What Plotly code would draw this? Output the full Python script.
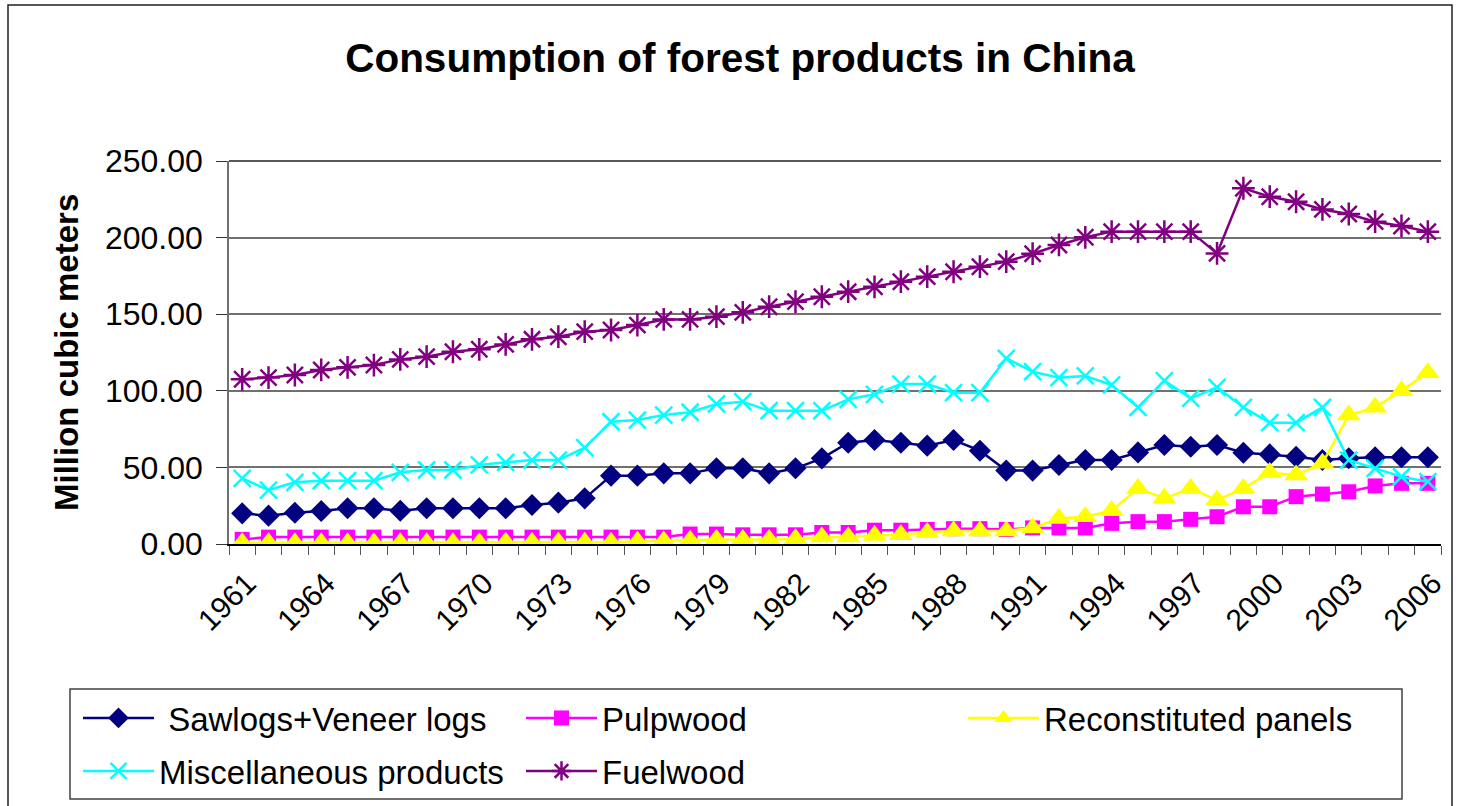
import plotly.graph_objects as go

# Years 1961-2006
years = list(range(1961, 2007))
label_years = years[::3]
tick_labels = [str(y) for y in label_years]

# Consumption, million cubic meters
sawlogs_veneer = [20.0, 18.5, 20.4, 21.5, 23.3, 23.3, 21.7, 23.3, 23.3, 23.3,
                  23.3, 25.5, 27.0, 29.8, 44.6, 44.6, 46.1, 46.1, 49.4, 49.4,
                  46.1, 49.4, 55.9, 66.1, 67.9, 66.1, 64.2, 67.9, 60.9, 47.9,
                  47.9, 51.6, 54.8, 54.8, 59.8, 64.6, 63.5, 64.6, 59.6, 58.5,
                  57.0, 54.8, 56.0, 56.6, 56.6, 56.6]
pulpwood = [3.0, 4.5, 4.5, 4.5, 4.5, 4.5, 4.5, 4.5, 4.5, 4.5,
            4.5, 4.5, 4.5, 4.5, 4.5, 4.5, 4.5, 6.5, 6.5, 6.0,
            6.0, 6.0, 7.5, 7.5, 9.0, 9.0, 9.5, 10.0, 10.0, 9.5,
            10.5, 10.5, 10.5, 13.5, 14.6, 14.6, 16.1, 17.8, 24.3, 24.3,
            30.9, 32.6, 34.1, 37.9, 39.6, 39.6]
reconstituted = [0.8, 0.8, 0.8, 0.8, 0.8, 0.8, 0.8, 0.8, 0.8, 0.8,
                 1.2, 1.2, 1.2, 1.2, 1.2, 1.8, 2.0, 2.5, 3.0, 3.0,
                 3.0, 3.5, 4.5, 4.5, 5.5, 6.0, 7.5, 8.5, 8.5, 8.5,
                 10.5, 16.7, 17.8, 21.8, 36.3, 29.8, 36.3, 28.7, 36.3, 46.6,
                 45.0, 52.7, 84.2, 89.2, 100.1, 111.8]
miscellaneous = [42.9, 35.2, 40.3, 41.3, 41.3, 41.3, 46.8, 48.3, 48.3, 51.6,
                 53.3, 54.8, 54.8, 62.9, 79.8, 80.9, 84.2, 86.0, 91.4, 92.9,
                 87.0, 87.0, 87.0, 94.4, 97.7, 104.4, 104.4, 98.8, 98.8, 121.2,
                 112.5, 108.6, 109.7, 103.8, 89.2, 106.6, 95.1, 102.3, 89.2, 79.2,
                 79.2, 89.2, 54.8, 49.4, 43.9, 40.7]
fuelwood = [107.5, 108.6, 110.3, 113.6, 115.3, 116.8, 120.5, 122.3, 125.5, 127.1,
            130.3, 133.6, 135.3, 138.6, 139.7, 142.9, 146.6, 146.6, 148.4, 151.2,
            154.9, 158.2, 161.4, 164.7, 167.9, 171.2, 174.5, 177.7, 181.0, 184.3,
            189.5, 195.2, 200.2, 203.9, 203.9, 203.9, 203.9, 189.7, 232.2, 226.7,
            223.4, 218.4, 215.4, 210.4, 207.6, 203.9]

FONT = "Liberation Sans, Arial, sans-serif"
W, H = 1460, 806
L, R, T, B = 229, 19, 161, 262
PW, PH = W - L - R, H - T - B


def px_x(px):
    return (px - L) / PW


def px_y(py):
    return (H - B - py) / PH


series = [
    dict(name=" Sawlogs+Veneer logs", y=sawlogs_veneer, color="#000080",
         symbol="diamond", size=17, legend="legend", lx=78, ly=718),
    dict(name="Pulpwood", y=pulpwood, color="#FF00FF",
         symbol="square", size=15, legend="legend2", lx=521, ly=718),
    dict(name="Reconstituted panels", y=reconstituted, color="#FFFF00",
         symbol="triangle-up", size=21, legend="legend3", lx=963, ly=718),
    dict(name="Miscellaneous products", y=miscellaneous, color="#00FFFF",
         symbol="x-thin-open", size=17, legend="legend4", lx=78, ly=771),
    dict(name="Fuelwood", y=fuelwood, color="#800080",
         symbol="asterisk-open", size=19, legend="legend5", lx=521, ly=771),
]

fig = go.Figure()
legends = {}
for s in series:
    open_sym = s["symbol"].endswith("open")
    fig.add_trace(go.Scatter(
        x=years, y=s["y"], name=s["name"], mode="lines+markers",
        line=dict(color=s["color"], width=2.5),
        marker=dict(symbol=s["symbol"], size=s["size"], color=s["color"],
                    line=dict(color=s["color"], width=2.5 if open_sym else 0)),
        legend=s["legend"],
    ))
    legends[s["legend"]] = dict(
        xref="container", yref="container",
        x=s["lx"] / W, y=1 - s["ly"] / H, xanchor="left", yanchor="middle",
        orientation="h", bgcolor="rgba(0,0,0,0)", borderwidth=0,
        itemwidth=71,
        font=dict(family=FONT, size=33, color="black"),
    )

fig.update_layout(**legends)

fig.update_layout(
    width=W, height=H,
    margin=dict(l=L, r=R, t=T, b=B),
    paper_bgcolor="white", plot_bgcolor="white",
    showlegend=True,
    title=dict(text="<b>Consumption of forest products in China</b>",
               font=dict(family=FONT, size=40.5, color="black"),
               x=740 / W, xanchor="center", xref="container",
               y=1 - 58 / H, yanchor="middle", yref="container"),
    xaxis=dict(
        range=[1960.5, 2006.5], tickmode="array", tickvals=label_years,
        ticktext=tick_labels, tickangle=-45, ticks="", showgrid=False,
        zeroline=False, showline=True, linecolor="black", linewidth=1.5,
        tickfont=dict(family=FONT, size=30, color="black"),
        ticklabelstandoff=8, ticklabelshift=5,
        minor=dict(tickmode="linear", tick0=1960.5, dtick=1, ticks="outside",
                   ticklen=9, tickcolor="#555555", tickwidth=1.2, showgrid=False),
    ),
    yaxis=dict(
        range=[0, 250], dtick=50, tickformat=".2f", ticks="outside",
        ticklen=11, tickcolor="#333333", tickwidth=1.2,
        showline=True, linecolor="#707070", linewidth=1.5,
        showgrid=True, gridcolor="#707070", gridwidth=1.5, zeroline=False,
        tickfont=dict(family=FONT, size=32, color="black"),
        ticklabelstandoff=7,
    ),
)

# Axis title
fig.add_annotation(text="<b>Million cubic meters</b>", textangle=-90,
                   x=px_x(66), y=px_y(353), xref="paper", yref="paper",
                   xanchor="center", yanchor="middle", showarrow=False,
                   font=dict(family=FONT, size=33, color="black"))

# Top gridline drawn darker, legend frame and outer chart frame
fig.add_shape(type="line", xref="paper", yref="paper", x0=0, x1=1, y0=1, y1=1,
              line=dict(color="#202020", width=1.5))
fig.add_shape(type="rect", xref="paper", yref="paper",
              x0=px_x(70), x1=px_x(1402), y0=px_y(799), y1=px_y(689),
              line=dict(color="#404040", width=1.5))
fig.add_shape(type="rect", xref="paper", yref="paper",
              x0=px_x(8), x1=px_x(1452), y0=px_y(830), y1=px_y(5),
              line=dict(color="#202020", width=1.5))

fig.write_html("out.html")
